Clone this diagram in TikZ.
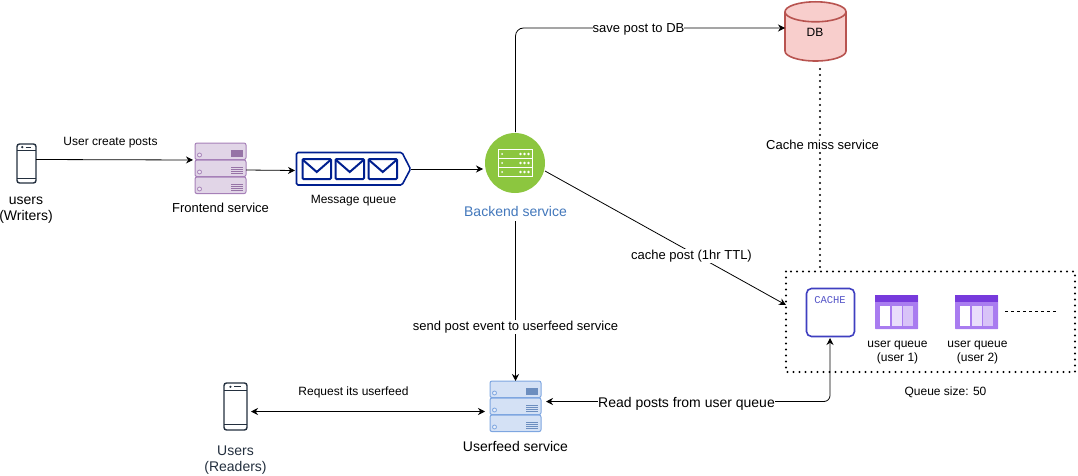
\documentclass[tikz,border=0pt]{standalone}
\usepackage{fontspec}
\setmainfont{Liberation Sans}
\setmonofont{Liberation Mono}
\usetikzlibrary{arrows.meta}
\definecolor{purpF}{HTML}{E1D5E7}
\definecolor{purpD}{HTML}{A680B8}
\definecolor{purpS}{HTML}{9673A6}
\definecolor{blueF}{HTML}{D4E1F5}
\definecolor{blueD}{HTML}{7EA6E0}
\definecolor{blueS}{HTML}{6C8EBF}
\definecolor{navy}{HTML}{001F8F}
\definecolor{backG}{HTML}{8CC63F}
\definecolor{backT}{HTML}{4277BB}
\definecolor{dbF}{HTML}{F8CECC}
\definecolor{dbD}{HTML}{B85450}
\definecolor{cacheB}{HTML}{3F3FC0}
\definecolor{cacheT}{HTML}{5555C8}
\definecolor{qL}{HTML}{A97CF0}
\definecolor{qD}{HTML}{773ADC}
\definecolor{phoneC}{HTML}{232F3E}
\definecolor{txtG}{HTML}{232F3E}
\tikzset{
  anchorbox/.style={inner sep=0pt,outer sep=0pt},
  conn/.style={draw=black,line width=0.8pt,-{Stealth[length=7pt,width=7pt]}},
  lbl/.style={font=\fontsize{12}{14}\selectfont,align=center,inner sep=1pt},
  lblw/.style={lbl,fill=white},
  lbl13/.style={font=\fontsize{13}{15}\selectfont,align=center,inner sep=1pt},
  lbl14/.style={font=\fontsize{14}{16}\selectfont,align=center,inner sep=1pt},
  dotline/.style={line width=2.4pt,line cap=round,dash pattern=on 0pt off 6pt},
  pics/serverstack/.style n args={3}{code={
    \foreach \yy in {0,17,34}{
      \draw[fill=#1,draw=#2,line width=1pt,rounded corners=2pt] (0,\yy) rectangle (51,\yy+16.6);
      \draw[fill=white!50!#1,draw=#2,line width=.8pt] (4.5,\yy+12) circle (2);
      \fill[#3] (36,\yy+6.5) rectangle (48,\yy+13.5);
    }
    \foreach \yy in {17,34}{
      \foreach \ll in {8.5,10.5,12.5}{\draw[#1,line width=.3pt] (36,\yy+\ll) -- (48,\yy+\ll);}
    }
  }},
  pics/phone/.style n args={3}{code={
    \draw[#3,line width=1.4pt,rounded corners=2.5pt,fill=white] (0,0) rectangle (#1,#2);
    \draw[#3,line width=1.2pt] (0,0.16*#2) -- (#1,0.16*#2);
    \draw[#3,line width=1.2pt] (0,0.89*#2) -- (#1,0.89*#2);
    \fill[#3] (0.28*#1,0.08*#2) circle (1.2);
    \draw[#3,line width=1pt] (0.45*#1,0.08*#2) -- (0.75*#1,0.08*#2);
  }},
  pics/queueicon/.style={code={
    \fill[qL,rounded corners=.5pt] (0,0) rectangle (43,34);
    \fill[qD] (0,0) rectangle (43,7);
    \fill[white] (5,11) rectangle (15,31);
    \fill[white,opacity=.75] (16.5,11) rectangle (26.5,31);
    \fill[white,opacity=.55] (28,11) rectangle (38,31);
  }},
  pics/envelope/.style={code={
    \draw[navy,line width=2pt,rounded corners=1pt,fill=white] (0,0) rectangle (28.5,20);
    \draw[navy,line width=2pt] (0.5,1) -- (14.25,13) -- (28,1);
  }},
}
\begin{document}
\begin{tikzpicture}[x=1pt,y=-1pt]
\useasboundingbox (0,0) rectangle (1078,476);
% anchor nodes / shapes
\node[anchorbox,minimum width=19pt,minimum height=39pt] (writers) at (26.5,163.5) {};
\pic at (17,144) {phone={19}{39}{phoneC}};
\node[anchorbox,minimum width=51pt,minimum height=51pt] (frontend) at (220.5,168) {};
\pic at (195,143) {serverstack={purpF}{purpD}{purpS}};
\node[anchorbox,minimum width=115pt,minimum height=33pt] (mq) at (353.5,169) {};
\draw[navy,line width=1.6pt,rounded corners=1.5pt,fill=white] (296.5,152.5) -- (402,152.5) -- (410.5,169) -- (402,185) -- (296.5,185) -- cycle;
\pic at (302.5,159) {envelope};
\pic at (335.5,159) {envelope};
\pic at (368.5,159) {envelope};
\node[anchorbox,circle,fill=backG,minimum size=60pt] (backend) at (515,163) {};
\foreach \yy in {149.5,158.5,167.5}{
  \draw[white,line width=1pt] (498.5,\yy) rectangle (532,\yy+9);
  \fill[white] (502,\yy+4.5) circle (1);
  \foreach \xx in {520.5,524.5,528.5}{\fill[white] (\xx,\yy+4.5) circle (1.4);}
}
\node[anchorbox,minimum width=61pt,minimum height=60pt] (db) at (815.5,31.5) {};
\draw[dbD,line width=1.6pt,fill=dbF] (785,12) -- (785,51) arc[start angle=180,end angle=360,x radius=30.5,y radius=-10] -- (846,12);
\draw[dbD,line width=1.6pt,fill=dbF] (815.5,11.8) ellipse [x radius=30.5,y radius=10];
\node[lbl] (dblabel) at (815,32) {DB};
\node[anchorbox,minimum width=289pt,minimum height=101pt] (cachebox) at (930.5,321.5) {};
\draw[dotline] (786,271.5) rectangle (1075,372);
\node[anchorbox,draw=cacheB,line width=1.6pt,rounded corners=5pt,fill=white,minimum width=48pt,minimum height=48pt] (cache) at (830.5,312.5) {};
\node[font=\fontsize{10.5}{12}\ttfamily,text=cacheT,inner sep=0pt] (cachetxt) at (830,300) {CACHE};
\pic at (875,295) {queueicon};
\pic at (955,295) {queueicon};
\coordinate (dashA) at (1005,311.5);
\coordinate (dashB) at (1056,311.5);
\draw[line width=.8pt,dash pattern=on 3pt off 3pt] (dashA) -- (dashB);
\node[lbl] (q1) at (897.5,353) {user queue\\(user 1)};
\node[lbl] (q2) at (977.5,353) {user queue\\(user 2)};
\node[lbl] (qsize) at (945.5,392.5) {Queue size: 50};
\node[anchorbox,minimum width=51pt,minimum height=51pt] (feed) at (515.5,406.5) {};
\pic at (490,381) {serverstack={blueF}{blueD}{blueS}};
\node[anchorbox,minimum width=23pt,minimum height=47pt] (readers) at (235.5,406.5) {};
\pic at (224,383) {phone={23}{47}{phoneC}};
% texts
\node[lbl14] (wtxt) at (26,210.5) {users\\(Writers)};
\node[lbl13] (ftxt) at (220.5,208) {Frontend service};
\node[lbl] (mtxt) at (353.5,201) {Message queue};
\node[lbl14,text=backT] (btxt) at (515.5,211) {Backend service};
\node[lbl14] (utxt) at (515.5,446) {Userfeed service};
\node[lbl14,text=txtG] (rtxt) at (235.5,460.5) {Users\\(Readers)};
\node[lbl] (t1) at (110.5,143) {User create posts};
\node[lbl] (t2) at (353.5,392.5) {Request its userfeed};
% connectors
\draw[conn] (writers.east |- 0,159.5) -- (193,160);
\draw[conn] (frontend.east |- 0,170) -- (295,170.5);
\draw[conn] (mq.east) -- (483,169);
\draw[conn,rounded corners=8pt] (515.5,132) -- (515.5,28) -- (db.west |- 0,28);
\node[lblw,font=\fontsize{13}{15}\selectfont,inner sep=0pt] (t3) at (638.5,29) {save post to DB};
\draw[conn] (545,171) -- (cachebox.west |- 0,305);
\node[lblw,font=\fontsize{13}{15}\selectfont] (t4) at (691.5,256) {cache post (1hr TTL)};
\draw[conn] (515.5,221) -- (515.5,381);
\node[lblw,font=\fontsize{13}{15}\selectfont] (t5) at (515.5,327) {send post event to userfeed service};
\draw[dotline] (820,69) -- (820,271);
\node[lblw,font=\fontsize{13}{15}\selectfont] (t6) at (822.5,145) {Cache miss service};
\draw[conn,{Stealth[length=7pt,width=7pt]}-{Stealth[length=7pt,width=7pt]}] (251,411.5) -- (485,411.5);
\draw[conn,{Stealth[length=7pt,width=7pt]}-{Stealth[length=7pt,width=7pt]},rounded corners=6pt] (546,401.5) -- (830,401.5) -- (830,338);
\node[lblw,font=\fontsize{14}{16}\selectfont,inner sep=0pt] (t7) at (686.5,404) {Read posts from user queue};
\end{tikzpicture}
\end{document}
